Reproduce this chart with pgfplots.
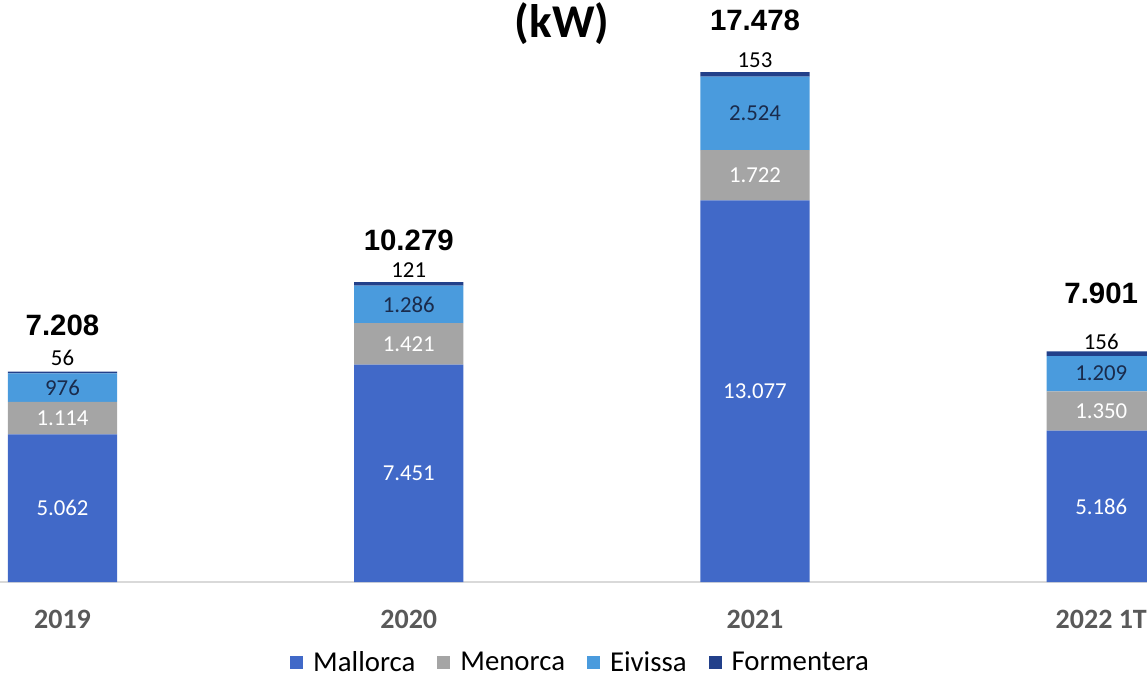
\documentclass[border=0pt]{standalone}
\usepackage{fontspec}
\setmainfont{Carlito}
\newfontfamily\arialfont{Liberation Sans}
\usepackage{pgfplots}
\pgfplotsset{compat=1.18}
\definecolor{cMal}{HTML}{4169C8}
\definecolor{cMen}{HTML}{A5A5A5}
\definecolor{cEiv}{HTML}{4A9BDD}
\definecolor{cFor}{HTML}{22408A}
\definecolor{cEivTxt}{HTML}{1A2B4C}
\definecolor{cCat}{HTML}{595959}
\tikzset{seg/.style={font=\fontsize{11.4}{13}\selectfont, inner sep=0pt},
  tot/.style={font=\arialfont\bfseries\fontsize{14.7}{17}\selectfont, inner sep=0pt}}
\begin{document}
\begin{tikzpicture}
\useasboundingbox (0,0) rectangle (573.5pt,338pt);
\begin{axis}[
  at={(0pt,47pt)}, anchor=south west,
  scale only axis, width=573.5pt, height=291pt,
  xmin=-0.1805, xmax=3.1321, ymin=0, ymax=19945,
  ybar stacked, bar width=0.315,
  axis x line*=bottom, axis y line=none,
  x axis line style={draw=black!15, line width=0.8pt, -},
  xtick={0,1,2,3}, xticklabels={2019,2020,2021,2022 1T},
  xtick style={draw=none},
  xticklabel style={anchor=center, yshift=-18.5pt, font=\bfseries\fontsize{14}{16}\selectfont, text=cCat},
  legend image code/.code={\fill[#1] (0pt,-3.25pt) rectangle (6.5pt,3.25pt); \path (9.5pt,0pt);},
  legend style={at={(0.507,-0.139)}, anchor=center, draw=none, fill=none,
    legend columns=-1, font=\fontsize{14.4}{16}\selectfont,
    /tikz/every even column/.append style={column sep=9pt},
    /tikz/every odd column/.append style={column sep=0pt}},
  after end axis/.code={
    \node[seg, text=white] at (axis cs:0,2531) {5.062};
    \node[seg, text=white] at (axis cs:0,5619) {1.114};
    \node[seg, text=cEivTxt] at (axis cs:0,6664) {976};
    \node[seg, text=black] at (axis cs:0,7676) {56};
    \node[seg, text=white] at (axis cs:1,3725) {7.451};
    \node[seg, text=white] at (axis cs:1,8161) {1.421};
    \node[seg, text=cEivTxt] at (axis cs:1,9515) {1.286};
    \node[seg, text=black] at (axis cs:1,10692) {121};
    \node[seg, text=white] at (axis cs:2,6538) {13.077};
    \node[seg, text=white] at (axis cs:2,13938) {1.722};
    \node[seg, text=cEivTxt] at (axis cs:2,16061) {2.524};
    \node[seg, text=black] at (axis cs:2,17889) {153};
    \node[seg, text=white] at (axis cs:3,2593) {5.186};
    \node[seg, text=white] at (axis cs:3,5861) {1.350};
    \node[seg, text=cEivTxt] at (axis cs:3,7140) {1.209};
    \node[seg, text=black] at (axis cs:3,8225) {156};
    \node[tot] at (axis cs:0,8807) {7.208};
    \node[tot] at (axis cs:1,11720) {10.279};
    \node[tot] at (axis cs:2,19260) {17.478};
    \node[tot] at (axis cs:3,9904) {7.901};
    \node[font=\bfseries\fontsize{23.5}{26}\selectfont, inner sep=0pt] at (axis cs:1.4426,19123) {(kW)};
  },
]
\addplot[fill=cMal, draw=none] coordinates {(0,5062) (1,7451) (2,13077) (3,5186)};
\addplot[fill=cMen, draw=none] coordinates {(0,1114) (1,1421) (2,1722) (3,1350)};
\addplot[fill=cEiv, draw=none] coordinates {(0,976) (1,1286) (2,2524) (3,1209)};
\addplot[fill=cFor, draw=none] coordinates {(0,56) (1,121) (2,153) (3,156)};
\legend{Mallorca,Menorca,Eivissa,Formentera}
\end{axis}
\end{tikzpicture}
\end{document}
